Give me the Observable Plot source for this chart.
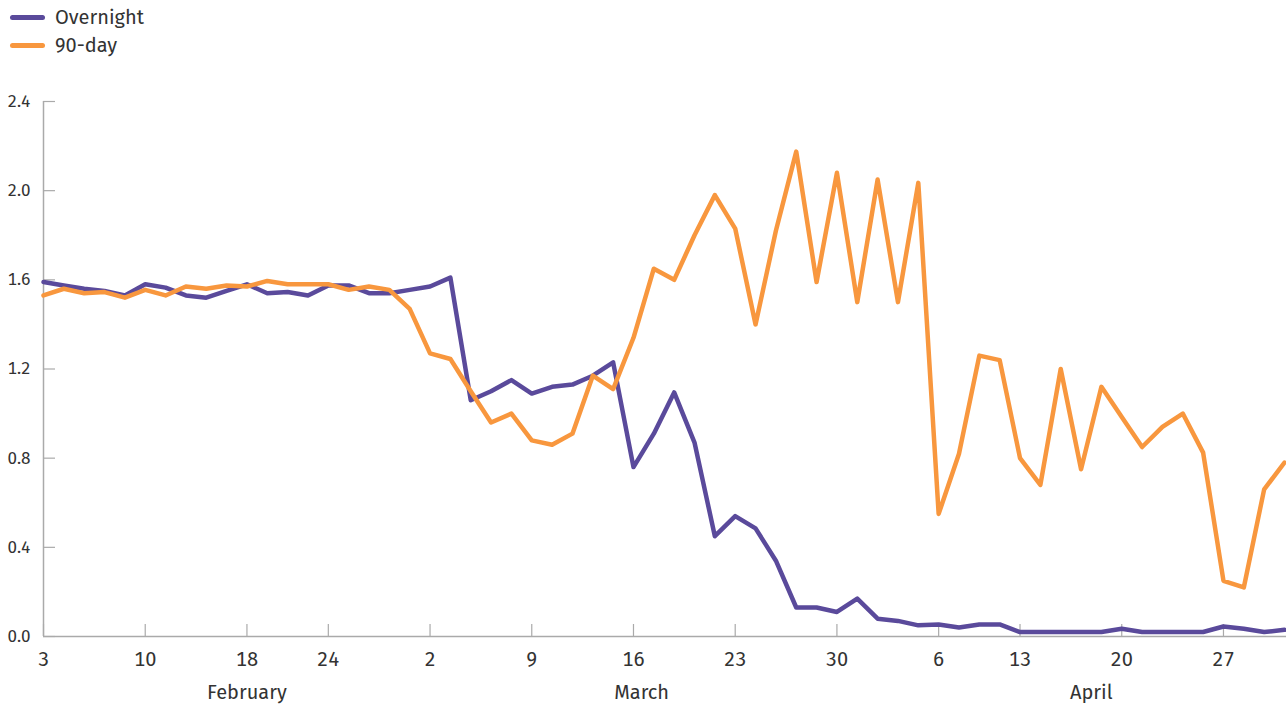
<!DOCTYPE html>
<html>
<head>
<meta charset="utf-8">
<script src="https://cdn.jsdelivr.net/npm/d3@7"></script>
<script src="https://cdn.jsdelivr.net/npm/@observablehq/plot@0.6"></script>
<style>
  html, body { margin: 0; padding: 0; background: #fff; }
  body { font-family: "Fira Sans", Lato, "Open Sans", sans-serif; color: #333; width: 1286px; height: 706px; overflow: hidden; }
  #legend { position: relative; height: 60px; }
  .row { position: absolute; left: 10px; display: flex; align-items: center; height: 24px; font-size: 20px; }
  .sw { width: 35px; height: 5px; border-radius: 3px; margin-right: 10px; }
</style>
</head>
<body>
<div id="legend"></div>
<div id="chart"></div>
<script>
// Business days, Feb 3 – Apr 30 2020
const dates = [
  "2020-02-03","2020-02-04","2020-02-05","2020-02-06","2020-02-07",
  "2020-02-10","2020-02-11","2020-02-12","2020-02-13","2020-02-14",
  "2020-02-18","2020-02-19","2020-02-20","2020-02-21",
  "2020-02-24","2020-02-25","2020-02-26","2020-02-27","2020-02-28",
  "2020-03-02","2020-03-03","2020-03-04","2020-03-05","2020-03-06",
  "2020-03-09","2020-03-10","2020-03-11","2020-03-12","2020-03-13",
  "2020-03-16","2020-03-17","2020-03-18","2020-03-19","2020-03-20",
  "2020-03-23","2020-03-24","2020-03-25","2020-03-26","2020-03-27",
  "2020-03-30","2020-03-31","2020-04-01","2020-04-02","2020-04-03",
  "2020-04-06","2020-04-07","2020-04-08","2020-04-09",
  "2020-04-13","2020-04-14","2020-04-15","2020-04-16","2020-04-17",
  "2020-04-20","2020-04-21","2020-04-22","2020-04-23","2020-04-24",
  "2020-04-27","2020-04-28","2020-04-29","2020-04-30"
];
const overnight = [
  1.59,1.575,1.56,1.55,1.53, 1.58,1.565,1.53,1.52,1.55,
  1.58,1.54,1.545,1.53, 1.575,1.575,1.54,1.54,1.555,
  1.57,1.61,1.06,1.10,1.15, 1.09,1.12,1.13,1.17,1.23,
  0.76,0.91,1.095,0.87,0.45, 0.54,0.485,0.34,0.13,0.13,
  0.11,0.17,0.08,0.07,0.05, 0.054,0.04,0.054,0.054,
  0.02,0.02,0.02,0.02,0.02, 0.035,0.02,0.02,0.02,0.02,
  0.045,0.035,0.02,0.03
];
const day90 = [
  1.53,1.56,1.54,1.545,1.52, 1.555,1.53,1.57,1.56,1.575,
  1.57,1.595,1.58,1.58, 1.58,1.555,1.57,1.555,1.47,
  1.27,1.245,1.10,0.96,1.00, 0.88,0.86,0.91,1.17,1.11,
  1.34,1.65,1.60,1.80,1.98, 1.83,1.40,1.82,2.175,1.59,
  2.08,1.50,2.05,1.50,2.035, 0.55,0.82,1.26,1.24,
  0.80,0.68,1.20,0.75,1.12, 0.985,0.85,0.94,1.00,0.825,
  0.25,0.22,0.66,0.78
];
const seriesNames = ["Overnight", "90-day"];
const seriesColors = ["#5a4a9b", "#f8973e"];
const yTicks = [0, 0.4, 0.8, 1.2, 1.6, 2.0, 2.4];
const tickDates = ["2020-02-03","2020-02-10","2020-02-18","2020-02-24","2020-03-02","2020-03-09",
  "2020-03-16","2020-03-23","2020-03-30","2020-04-06","2020-04-13","2020-04-20","2020-04-27"];
const monthNames = ["February", "March", "April"];
const monthAt = [10, 29.4, 51.5];

// legend
const legend = document.getElementById("legend");
seriesNames.forEach((n, k) => {
  const r = document.createElement("div");
  r.className = "row";
  r.style.top = (5 + k * 28) + "px";
  r.innerHTML = `<span class="sw" style="background:${seriesColors[k]}"></span><span>${n}</span>`;
  legend.appendChild(r);
});

const rows = [];
dates.forEach((d, i) => {
  rows.push({i, series: seriesNames[0], v: overnight[i]});
});
dates.forEach((d, i) => {
  rows.push({i, series: seriesNames[1], v: day90[i]});
});
const tickIdx = tickDates.map(d => dates.indexOf(d));
const months = monthNames.map((m, k) => ({name: m, at: monthAt[k]}));

const W = 1286, H = 646, mL = 43, mR = 2, mT = 41, mB = 70;
const plotW = W - mL - mR, plotH = H - mT - mB;
const axisColor = "#aaaaaa";

const chart = Plot.plot({
  width: W, height: H,
  marginLeft: mL, marginRight: mR, marginTop: mT, marginBottom: mB,
  style: {fontFamily: '"Fira Sans", Lato, "Open Sans", sans-serif', color: "#333", background: "#fff"},
  x: {domain: [0, dates.length - 1], axis: null},
  y: {domain: [0, 2.4], axis: null},
  color: {domain: seriesNames, range: seriesColors},
  marks: [
    Plot.ruleX([0], {stroke: axisColor, strokeWidth: 1.5}),
    Plot.ruleY(yTicks, {stroke: axisColor, strokeWidth: 1.2, insetRight: plotW - 12}),
    Plot.ruleX(tickIdx, {stroke: axisColor, strokeWidth: 1.2, insetTop: plotH - 12}),
    Plot.ruleY([0], {stroke: axisColor, strokeWidth: 1.5, insetRight: -2}),
    Plot.axisY({ticks: yTicks, tickSize: 0, tickPadding: 13, tickFormat: d3.format(".1f"), fontSize: 17, label: null}),
    Plot.axisX({ticks: tickIdx, tickSize: 0, tickPadding: 15, tickFormat: i => String(+dates[i].slice(8)), fontSize: 20, label: null}),
    Plot.text(months, {x: "at", frameAnchor: "bottom", dy: 62, text: "name", fontSize: 20, fill: "#333"}),
    Plot.lineY(rows, {x: "i", y: "v", z: "series", stroke: "series", strokeWidth: 4.5})
  ]
});
document.getElementById("chart").appendChild(chart);
</script>
</body>
</html>
